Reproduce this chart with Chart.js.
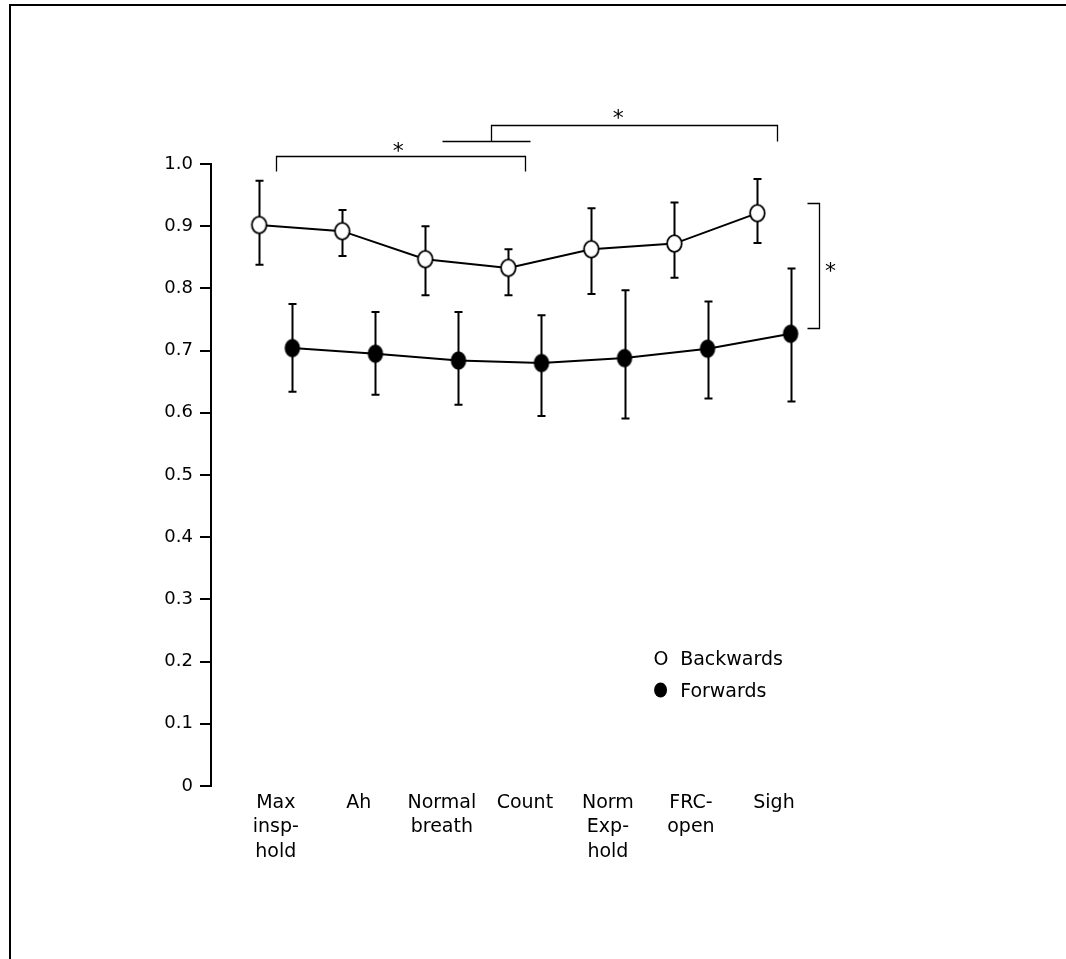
<!DOCTYPE html>
<html><head><meta charset="utf-8">
<script src="https://cdn.jsdelivr.net/npm/chart.js@4/dist/chart.umd.min.js"></script>
<style>html,body{margin:0;padding:0;background:#fff}#wrap{position:relative;width:1066px;height:959px}</style>
</head><body><div id="wrap"><canvas id="c"></canvas></div>
<script>
// ---- data ----
const categories = [['Max','insp-','hold'],['Ah'],['Normal','breath'],['Count'],['Norm','Exp-','hold'],['FRC-','open'],['Sigh']];
const seriesNames = ['Backwards','Forwards'];
const backwardsMean  = [0.902,0.892,0.847,0.833,0.863,0.872,0.921];
const backwardsUpper = [0.973,0.926,0.900,0.863,0.929,0.938,0.976];
const backwardsLower = [0.838,0.852,0.789,0.789,0.791,0.817,0.873];
const forwardsMean   = [0.704,0.695,0.684,0.680,0.688,0.703,0.727];
const forwardsUpper  = [0.775,0.762,0.762,0.757,0.797,0.779,0.832];
const forwardsLower  = [0.634,0.629,0.613,0.595,0.591,0.623,0.618];
const yTicks = [0,0.1,0.2,0.3,0.4,0.5,0.6,0.7,0.8,0.9,1.0];

const FONT = '"DejaVu Sans", sans-serif';
const OFFSET = 0.2;

function ellipseImg(rx, ry, fill, lw){
  const c = document.createElement('canvas');
  c.width = Math.ceil(2*rx + 2*lw + 2); c.height = Math.ceil(2*ry + 2*lw + 2);
  const g = c.getContext('2d');
  g.beginPath(); g.ellipse(c.width/2, c.height/2, rx, ry, 0, 0, Math.PI*2);
  g.fillStyle = fill; g.fill();
  if (lw) { g.lineWidth = lw; g.strokeStyle = '#000'; g.stroke(); }
  return c;
}
const openImg = ellipseImg(7.3, 8.3, '#fff', 1.8);
const filledImg = ellipseImg(7.7, 9.2, '#000', 0);

const errorBars = [
  {upper: backwardsUpper, lower: backwardsLower},
  {upper: forwardsUpper, lower: forwardsLower}
];

// significance brackets (data units)
const brackets = [
  {path: [[0,0.988],[0,1.013],[3,1.013],[3,0.988]], star: [1.475, 1.013], dy: 2},
  {path: [[2.59,1.037],[2.59,1.063],[6.04,1.063],[6.04,1.037]], star: [4.125, 1.063], dy: 0},
  {path: [[2.0,1.037],[3.06,1.037]]},
  {path: [[6.40,0.937],[6.54,0.937],[6.54,0.737],[6.40,0.737]], star: [6.68, 0.833], dy: 10}
];

const errPlugin = {
  id: 'err',
  beforeDatasetsDraw(chart){
    const ctx = chart.ctx, ys = chart.scales.y;
    ctx.save(); ctx.strokeStyle = '#000'; ctx.lineWidth = 2;
    errorBars.forEach((eb, d) => {
      const meta = chart.getDatasetMeta(d);
      meta.data.forEach((pt, i) => {
        const x = Math.round(pt.x) + 0.5;
        const yt = ys.getPixelForValue(eb.upper[i]);
        const yb = ys.getPixelForValue(eb.lower[i]);
        ctx.beginPath();
        ctx.moveTo(x, yt); ctx.lineTo(x, yb);
        ctx.moveTo(x-4, yt); ctx.lineTo(x+4, yt);
        ctx.moveTo(x-4, yb); ctx.lineTo(x+4, yb);
        ctx.stroke();
      });
    });
    ctx.restore();
  },
  afterDraw(chart){
    const ctx = chart.ctx, xs = chart.scales.x, ys = chart.scales.y;
    ctx.save();
    // frame
    ctx.fillStyle = '#000';
    ctx.fillRect(9, 4, chart.width - 9, 2);
    ctx.fillRect(9, 4, 2, chart.height - 4);
    // brackets
    ctx.strokeStyle = '#000'; ctx.lineWidth = 1.3;
    ctx.fillStyle = '#000';
    brackets.forEach(b => {
      ctx.beginPath();
      b.path.forEach((p, k) => {
        const px = Math.round(xs.getPixelForValue(p[0])) + 0.5;
        const py = Math.round(ys.getPixelForValue(p[1])) + 0.5;
        if (k === 0) ctx.moveTo(px, py); else ctx.lineTo(px, py);
      });
      ctx.stroke();
      if (b.star) {
        const sx = xs.getPixelForValue(b.star[0]);
        const sy = ys.getPixelForValue(b.star[1]);
        ctx.font = '22px ' + FONT;
        ctx.textAlign = 'center'; ctx.textBaseline = 'alphabetic';
        ctx.fillText('*', sx, sy + b.dy);
      }
    });
    // legend
    ctx.font = '19px ' + FONT;
    const lx = xs.getPixelForValue(4.55), tx = xs.getPixelForValue(4.87);
    const l1 = ys.getPixelForValue(0.1945), l2 = ys.getPixelForValue(0.143);
    ctx.textAlign = 'left'; ctx.textBaseline = 'alphabetic';
    ctx.fillText('O', lx, l1);
    ctx.fillText(seriesNames[0], tx, l1);
    ctx.beginPath(); ctx.ellipse(lx + 7, l2 - 7, 6.5, 7.5, 0, 0, Math.PI*2); ctx.fill();
    ctx.fillText(seriesNames[1], tx, l2);
    ctx.restore();
  }
};

new Chart(document.getElementById('c'), {
  type: 'line',
  data: {
    datasets: [
      {
        label: seriesNames[0],
        data: backwardsMean.map((v, i) => ({x: i - OFFSET, y: v})),
        borderColor: '#000', borderWidth: 2, pointStyle: openImg, pointRadius: 8, tension: 0
      },
      {
        label: seriesNames[1],
        data: forwardsMean.map((v, i) => ({x: i + OFFSET, y: v})),
        borderColor: '#000', borderWidth: 2, pointStyle: filledImg, pointRadius: 9, tension: 0
      }
    ]
  },
  options: {
    responsive: true, maintainAspectRatio: false, animation: false,
    layout: {padding: {left: 10, top: 164, right: 209, bottom: 73}},
    plugins: {legend: {display: false}, tooltip: {enabled: false}},
    scales: {
      x: {
        type: 'linear', min: -0.78, max: 7,
        afterBuildTicks(s){ s.ticks = categories.map((c, i) => ({value: i})); },
        afterFit(s){ s.height = 100; },
        grid: {display: false, drawTicks: false},
        border: {display: false},
        ticks: {
          autoSkip: false, maxRotation: 0, padding: 5, color: '#000',
          font: {family: FONT, size: 19, lineHeight: 1.28},
          callback: (v) => categories[Math.round(v)] || ''
        }
      },
      y: {
        type: 'linear', min: 0, max: 1,
        afterBuildTicks(s){ s.ticks = yTicks.map(v => ({value: v})); },
        afterFit(s){ s.width = 201; },
        grid: {display: true, drawOnChartArea: false, drawTicks: true, tickLength: 11, color: '#000', lineWidth: 2},
        border: {display: true, color: '#000', width: 2},
        ticks: {
          padding: 7, color: '#000',
          font: {family: FONT, size: 18},
          callback: (v) => v === 0 ? '0' : v.toFixed(1)
        }
      }
    }
  },
  plugins: [errPlugin]
});
</script></body></html>
